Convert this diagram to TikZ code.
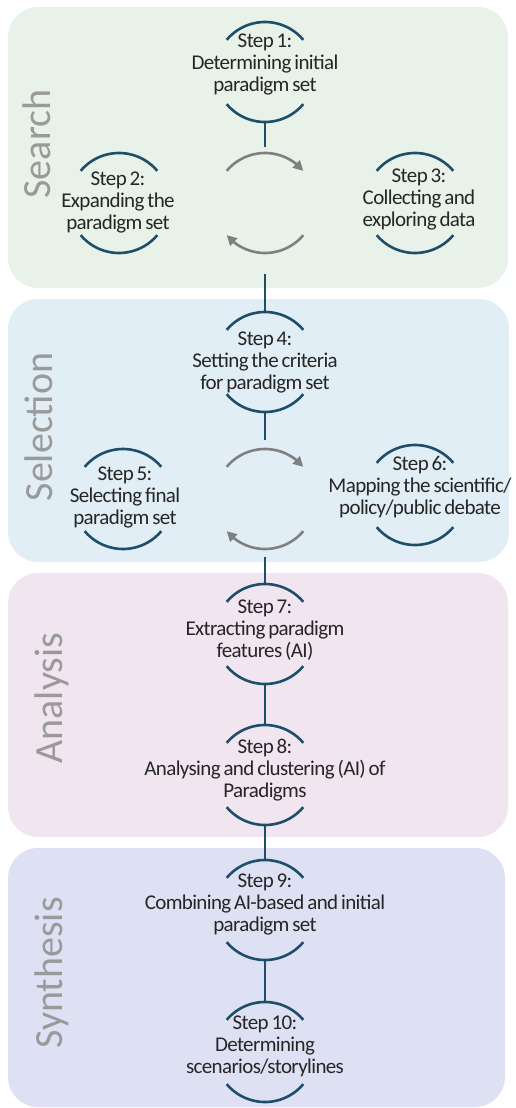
\documentclass[tikz,border=0pt]{standalone}
\usepackage{fontspec}
\setmainfont{Carlito}
\newfontfamily\stepfont{Carlito}[LetterSpace=-3, WordSpace=0.7]
\usetikzlibrary{arrows.meta,bending}

\definecolor{searchbg}{HTML}{E9F2E8}
\definecolor{selectbg}{HTML}{E1EEF5}
\definecolor{analysisbg}{HTML}{F1E6F0}
\definecolor{synthbg}{HTML}{DEE1F3}
\definecolor{ringblue}{HTML}{1D4E6A}
\definecolor{loopgray}{HTML}{808080}
\definecolor{phasegray}{HTML}{9A9A9A}
\definecolor{inktext}{HTML}{262626}

\begin{document}
\begin{tikzpicture}[x=1pt,y=1pt,
  panel/.style={rounded corners=30pt, draw=none},
  phase/.style={rotate=90, anchor=north, inner sep=0pt, text=phasegray,
                font=\fontsize{40}{40}\selectfont},
  ring/.style={circle, minimum size=100pt, inner sep=0pt, outer sep=0pt},
  steptext/.style={align=center, inner sep=0pt, text=inktext,
                   font=\stepfont\fontsize{21}{22}\selectfont},
  ringarc/.style={draw=ringblue, line width=2.6pt},
  link/.style={draw=ringblue, line width=2.6pt},
  looparrow/.style={draw=loopgray, line width=2.6pt,
                    -{Triangle[length=10pt,width=10pt]}}
]
\useasboundingbox (0,0) rectangle (516,-1108);

% phase panels
\fill[panel, searchbg]   (8,-7)   rectangle (508,-288);
\fill[panel, selectbg]   (8,-299) rectangle (509,-562);
\fill[panel, analysisbg] (8,-573) rectangle (508,-837);
\fill[panel, synthbg]    (8,-848) rectangle (505,-1107);

% phase titles
\node[phase] (pSearch)    at (23,-144) {Search};
\node[phase] (pSelection) at (25,-427) {Selection};
\node[phase] (pAnalysis)  at (35,-698) {Analysis};
\node[phase] (pSynthesis) at (35,-973) {Synthesis};

% step rings (drawn as two open arcs each)
\node[ring] (s1)  at (265,-72)   {};
\node[ring] (s2)  at (119,-203)  {};
\node[ring] (s3)  at (415,-203)  {};
\node[ring] (s4)  at (265,-362)  {};
\node[ring] (s5)  at (123,-499)  {};
\node[ring] (s6)  at (415,-495)  {};
\node[ring] (s7)  at (265,-634)  {};
\node[ring] (s8)  at (265,-775)  {};
\node[ring] (s9)  at (265,-910)  {};
\node[ring] (s10) at (265,-1052) {};

% iteration loops
\node[ring] (l1) at (265,-203) {};
\node[ring] (l2) at (265,-499) {};

\foreach \n in {s1,s2,s3,s4,s5,s6,s7,s8,s9,s10}{
  \draw[ringarc] (\n.140) arc[start angle=140, end angle=40, radius=50];
  \draw[ringarc] (\n.220) arc[start angle=220, end angle=320, radius=50];
}

\foreach \n in {l1,l2}{
  \draw[looparrow] (\n.140) arc[start angle=140, end angle=40, radius=50];
  \draw[looparrow] (\n.-40) arc[start angle=-40, end angle=-140, radius=50];
}

% step texts
\node[steptext] (t1)  at (265,-64.5) {Step 1:\\Determining initial\\paradigm set};
\node[steptext] (t2)  at (118,-202)  {Step 2:\\Expanding the\\paradigm set};
\node[steptext] (t3)  at (419,-199)  {Step 3:\\Collecting and\\exploring data};
\node[steptext] (t4)  at (265,-362)  {Step 4:\\Setting the criteria\\for paradigm set};
\node[steptext] (t5)  at (125,-497)  {Step 5:\\Selecting final\\paradigm set};
\node[steptext] (t6)  at (420,-487)  {Step 6:\\Mapping the scientific/\\policy/public debate};
\node[steptext] (t7)  at (265,-630)  {Step 7:\\Extracting paradigm\\features (AI)};
\node[steptext] (t8)  at (265,-770)  {Step 8:\\Analysing and clustering (AI) of\\Paradigms};
\node[steptext] (t9)  at (265,-904.5){Step 9:\\Combining AI-based and initial\\paradigm set};
\node[steptext] (t10) at (265,-1046) {Step 10:\\Determining\\scenarios/storylines};

% main flow connectors
\coordinate (j1) at (265,-147);
\coordinate (j2) at (265,-274);
\coordinate (j3) at (265,-440);
\coordinate (j4) at (265,-557);
\draw[link] (s1.south) -- (j1);
\draw[link] (j2) -- (s4.north);
\draw[link] (s4.south) -- (j3);
\draw[link] (j4) -- (s7.north);
\draw[link] (s7.south) -- (s8.north);
\draw[link] (s8.south) -- (s9.north);
\draw[link] (s9.south) -- (s10.north);
\end{tikzpicture}
\end{document}
